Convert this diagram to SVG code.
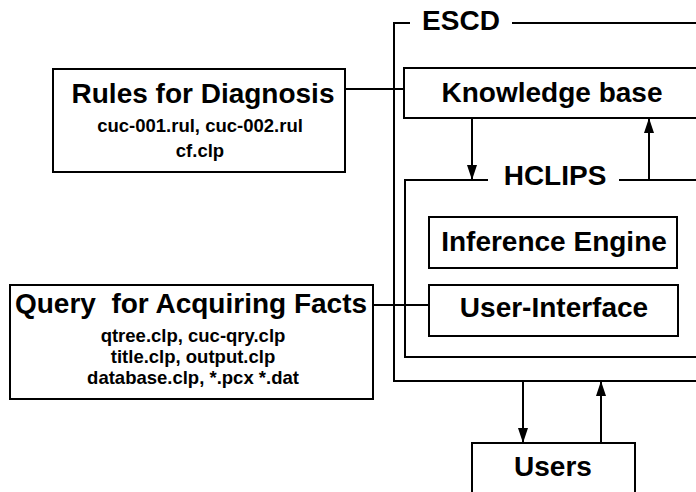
<svg xmlns="http://www.w3.org/2000/svg" width="696" height="492" viewBox="0 0 696 492">
  <defs>
    <marker id="arrow" markerUnits="userSpaceOnUse" markerWidth="16" markerHeight="10" refX="15" refY="5" orient="auto">
      <path d="M0,0 L15,5 L0,10 Z" fill="#000"/>
    </marker>
    <style>
      .box { fill: #fff; stroke: #000; stroke-width: 2; }
      .frame { fill: none; stroke: #000; stroke-width: 2; }
      .wire { fill: none; stroke: #000; stroke-width: 2; }
      .arr { fill: none; stroke: #000; stroke-width: 2; marker-end: url(#arrow); }
      .big { font-family: "Liberation Sans", Arial, sans-serif; font-weight: bold; font-size: 28px; fill: #000; text-anchor: middle; }
      .small { font-family: "Liberation Sans", Arial, sans-serif; font-weight: bold; font-size: 18.5px; fill: #000; text-anchor: middle; }
    </style>
  </defs>
  <rect width="696" height="492" fill="#fff"/>

  <!-- ESCD outer frame -->
  <g id="escd">
    <path class="frame" d="M410,23 H394 V381 H700"/>
    <path class="frame" d="M512,23 H700"/>
    <text class="big" x="461" y="30">ESCD</text>
  </g>

  <!-- HCLIPS inner frame -->
  <g id="hclips">
    <path class="frame" d="M488,180 H405 V357 H700"/>
    <path class="frame" d="M619,180 H700"/>
    <text class="big" x="555" y="185">HCLIPS</text>
  </g>

  <g id="knowledge-base">
    <rect class="box" x="404" y="68" width="300" height="50"/>
    <text class="big" x="552" y="102">Knowledge base</text>
  </g>

  <g id="inference-engine">
    <rect class="box" x="429" y="217" width="248" height="51"/>
    <text class="big" x="554" y="251">Inference Engine</text>
  </g>

  <g id="user-interface">
    <rect class="box" x="429" y="285" width="249" height="51"/>
    <text class="big" x="554" y="317">User-Interface</text>
  </g>

  <g id="rules">
    <rect class="box" x="53" y="69" width="292" height="103"/>
    <text class="big" x="203" y="103">Rules for Diagnosis</text>
    <text class="small" x="200" y="132">cuc-001.rul, cuc-002.rul</text>
    <text class="small" x="200" y="157">cf.clp</text>
  </g>

  <g id="query">
    <rect class="box" x="10" y="285" width="363" height="114"/>
    <text class="big" x="191" y="313" xml:space="preserve">Query  for Acquiring Facts</text>
    <text class="small" x="193" y="342">qtree.clp, cuc-qry.clp</text>
    <text class="small" x="193" y="363">title.clp, output.clp</text>
    <text class="small" x="193" y="384">database.clp, *.pcx *.dat</text>
  </g>

  <g id="users">
    <rect class="box" x="472" y="443" width="163" height="60"/>
    <text class="big" x="553" y="476">Users</text>
  </g>

  <!-- connectors -->
  <g id="connectors">
    <path class="wire" d="M345,89 H404"/>
    <path class="wire" d="M373,305 H429"/>
    <path class="arr" d="M472,118 V180"/>
    <path class="arr" d="M649,180 V118"/>
    <path class="arr" d="M523,381 V443"/>
    <path class="arr" d="M601,443 V381"/>
  </g>
</svg>
